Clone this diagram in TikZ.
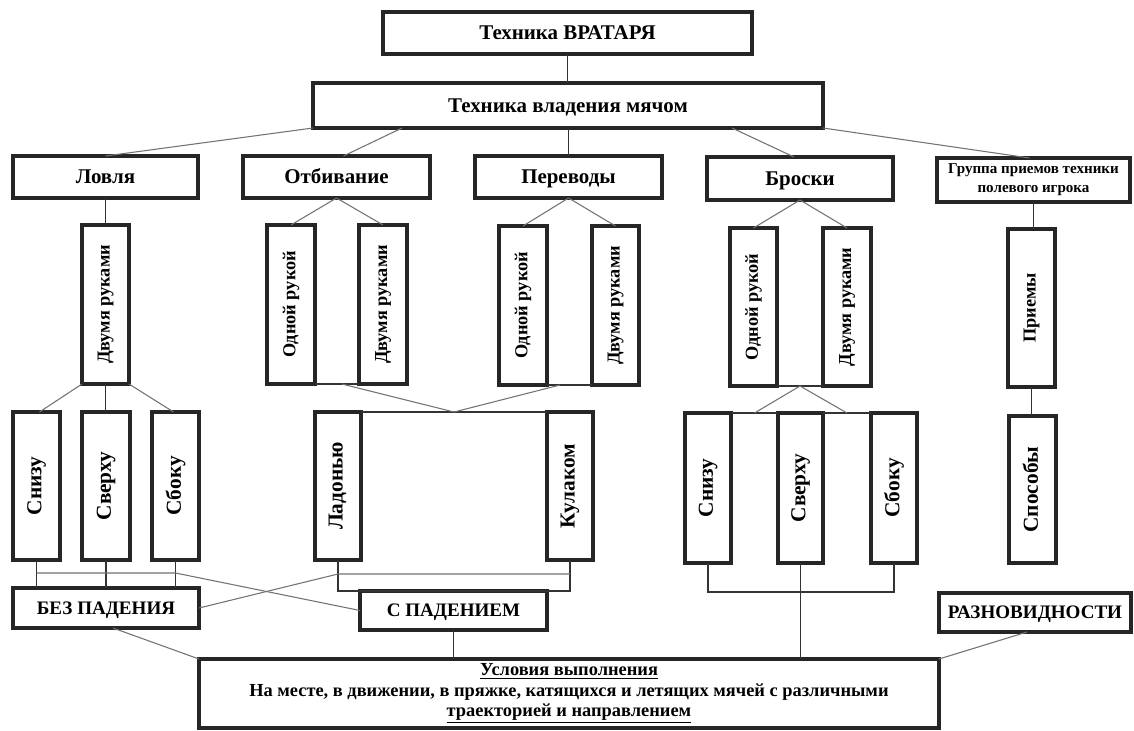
\documentclass[tikz,border=0pt]{standalone}
\usepackage{fontspec}
\setmainfont{Liberation Serif}
\usepackage{graphicx}
\usetikzlibrary{calc}

% \placebox[style]{name}{x1}{y1}{x2}{y2}{text}: a framed box given by its corners (px)
\newcommand\placebox[7][]{%
  \node[box,#1,minimum width={(#5-#3)*0.75pt},minimum height={(#6-#4)*0.75pt}]
    (#2) at ({(#3+#5)/2},{(#4+#6)/2}) {#7};}
% upright text turned to read upwards, with a fixed height and depth
\newcommand\vtext[1]{\rotatebox{90}{\vphantom{Ду}#1}}

\begin{document}
\begin{tikzpicture}[x=0.75pt,y=-0.75pt,
  box/.style={draw=black!85,line width=2.4pt,inner sep=0pt,outer sep=0pt,align=center},
  headf/.style={font=\fontsize{15.7}{18}\selectfont\bfseries,text height=10.4pt,text depth=0pt},
  smallf/.style={font=\fontsize{11.3}{14}\selectfont\bfseries},
  midf/.style={font=\fontsize{13.7}{15}\selectfont\bfseries},
  tallf/.style={font=\fontsize{16}{18}\selectfont\bfseries},
  rowf/.style={font=\fontsize{14.3}{16}\selectfont\bfseries,text height=9.4pt,text depth=0pt},
  basef/.style={font=\fontsize{13.8}{15.3}\selectfont\bfseries},
  link/.style={draw=black!80,line width=0.8pt},
  faint/.style={draw=black!55,line width=0.8pt}]
\useasboundingbox[fill=white] (0,0) rectangle (1134,731);

% top levels
\placebox[headf]{top}{383}{12}{752}{54}{Техника ВРАТАРЯ}
\placebox[headf]{tvm}{313}{83}{823}{128}{Техника владения мячом}

% first row of groups
\placebox[headf]{lov}{13}{156}{198}{198}{Ловля}
\placebox[headf]{otb}{243}{156}{430}{198}{Отбивание}
\placebox[headf]{per}{475}{156}{662}{198}{Переводы}
\placebox[headf]{bro}{707}{157}{893}{200}{Броски}
\placebox[smallf]{grp}{937}{158}{1130}{202}{Группа приемов техники\\полевого игрока}

% second row: hands
\placebox[midf]{lovD}{82}{225}{129}{384}{\vtext{Двумя руками}}
\placebox[midf]{otbO}{267}{225}{315}{384}{\vtext{Одной рукой}}
\placebox[midf]{otbD}{359}{225}{407}{384}{\vtext{Двумя руками}}
\placebox[midf]{perO}{499}{226}{547}{385}{\vtext{Одной рукой}}
\placebox[midf]{perD}{592}{226}{639}{385}{\vtext{Двумя руками}}
\placebox[midf]{broO}{730}{228}{777}{386}{\vtext{Одной рукой}}
\placebox[midf]{broD}{823}{228}{871}{386}{\vtext{Двумя руками}}
\placebox[midf]{grpP}{1008}{229}{1055}{387}{\vtext{Приемы}}

% third row: directions and ways
\placebox[tallf]{lovA}{13}{412}{60}{560}{\vtext{Снизу}}
\placebox[tallf]{lovB}{82}{412}{130}{560}{\vtext{Сверху}}
\placebox[tallf]{lovC}{152}{412}{199}{560}{\vtext{Сбоку}}
\placebox[tallf]{lad}{315}{412}{361}{560}{\vtext{Ладонью}}
\placebox[tallf]{kul}{547}{412}{593}{560}{\vtext{Кулаком}}
\placebox[tallf]{broA}{685}{413}{731}{563}{\vtext{Снизу}}
\placebox[tallf]{broB}{778}{413}{823}{563}{\vtext{Сверху}}
\placebox[tallf]{broC}{871}{413}{917}{563}{\vtext{Сбоку}}
\placebox[tallf]{sps}{1009}{416}{1056}{563}{\vtext{Способы}}

% fourth row
\placebox[rowf]{bez}{13}{588}{199}{628}{БЕЗ ПАДЕНИЯ}
\placebox[rowf]{spad}{360}{591}{547}{630}{С ПАДЕНИЕМ}
\placebox[rowf]{raz}{939}{593}{1131}{632}{РАЗНОВИДНОСТИ}
\placebox[basef]{usl}{199}{659}{939}{728}{\underline{Условия выполнения}\\
  На месте, в движении, в пряжке, катящихся и летящих мячей с различными\\
  \underline{траекторией и направлением}}

% links from the upper boxes
\draw[link] (top.south) -- (top.south |- tvm.north);
\draw[faint] (tvm.south west) -- (lov.north);
\draw[faint] ($(tvm.south west)+(89,0)$) -- ($(otb.north)+(7,0)$);
\draw[link] (per.north |- tvm.south) -- (per.north);
\draw[faint] ($(tvm.south west)+(419,0)$) -- ($(bro.north)+(-6,0)$);
\draw[faint] (tvm.south east) -- ($(grp.north)+(-4,0)$);

% links to the hand boxes
\draw[link] (lov.south) -- (lov.south |- lovD.north);
\draw[faint] (otb.south) -- (otbO.north);
\draw[faint] (otb.south) -- (otbD.north);
\draw[faint] (per.south) -- (perO.north);
\draw[faint] (per.south) -- (perD.north);
\draw[faint] (bro.south) -- (broO.north);
\draw[faint] (bro.south) -- (broD.north);
\draw[link] (grp.south) -- (grp.south |- grpP.north);
\draw[link] (grpP.south) -- (grpP.south |- sps.north);

% catching: two hands to the three directions
\draw[faint] (lovD.south west) -- ($(lovA.north)+(3,0)$);
\draw[link] (lovD.south) -- (lovD.south |- lovB.north);
\draw[faint] (lovD.south east) -- ($(lovC.north)+(-2,0)$);

% hitting and deflecting: palm and fist
\coordinate (otbM) at ($(otbO.south east)!0.61!(otbD.south west)$);
\coordinate (perM) at ($(perO.south east)!0.29!(perD.south west)$);
\coordinate (ladM) at ($(lad.north east)!0.5!(kul.north west)$);
\draw[link] (otbO.south east) -- (otbD.south west);
\draw[link] (perO.south east) -- (perD.south west);
\draw[link] (lad.north east) -- (kul.north west);
\draw[faint] (otbM) -- (ladM) -- (perM);

% throws: hands to the three directions
\coordinate (broM) at ($(broO.south east)!0.5!(broD.south west)$);
\draw[link] (broO.south east) -- (broD.south west);
\draw[link] (broA.north east) -- (broB.north west);
\draw[link] (broB.north east) -- (broC.north west);
\draw[faint] ($(broA.north east)!0.5!(broB.north west)$) -- (broM)
  -- ($(broB.north east)!0.5!(broC.north west)$);

% directions to falling / not falling
\draw[link] (lovA.south) -- (lovA.south |- bez.north);
\draw[link] (lovB.south) -- (lovB.south |- bez.north);
\draw[link] (lovC.south) -- (lovC.south |- bez.north);
\draw[faint] ($(lovA.south)+(0,13)$) -- ($(lovC.south)+(0,13)$) -- (spad.west);
\draw[link] (lad.south) -- ++(0,31) -| (kul.south);
\draw[faint] ($(kul.south)+(0,14)$) -- ($(lad.south)+(0,14)$) -- (bez.east);
\draw[link] (broA.south) -- ++(0,29) -| (broC.south);

% links to the conditions
\draw[faint] ($(bez.south)+(7,0)$) -- (usl.north west);
\draw[link] (spad.south) -- (spad.south |- usl.north);
\draw[link] (broB.south) -- (broB.south |- usl.north);
\draw[faint] ($(raz.south)+(-8,0)$) -- (usl.north east);
\end{tikzpicture}
\end{document}
